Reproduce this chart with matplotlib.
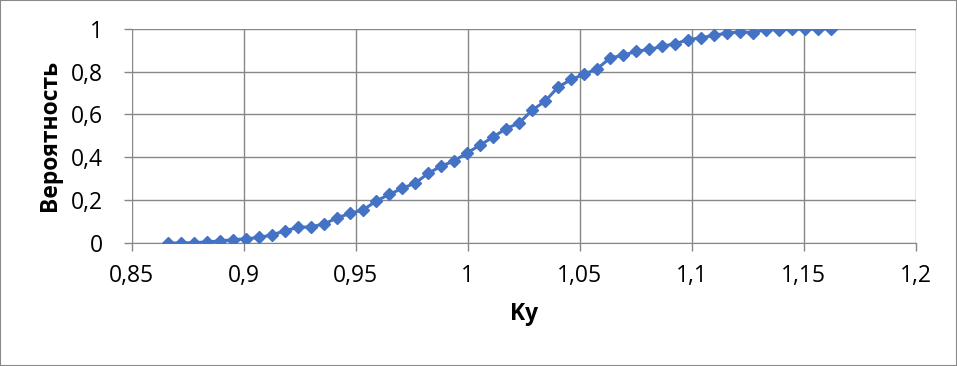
import matplotlib.pyplot as plt
from matplotlib.patches import Rectangle
from matplotlib.ticker import FuncFormatter

plt.rcParams["font.family"] = ["Open Sans", "DejaVu Sans"]

# Ky values along x
ky = [0.8663, 0.8721, 0.8779, 0.8837, 0.8895, 0.8953, 0.9012, 0.9070, 0.9128, 0.9186,
      0.9244, 0.9302, 0.9360, 0.9418, 0.9476, 0.9534, 0.9592, 0.9650, 0.9708, 0.9766,
      0.9824, 0.9882, 0.9940, 0.9998, 1.0056, 1.0114, 1.0172, 1.0230, 1.0288, 1.0346,
      1.0404, 1.0463, 1.0521, 1.0579, 1.0637, 1.0695, 1.0753, 1.0811, 1.0869, 1.0927,
      1.0985, 1.1043, 1.1101, 1.1159, 1.1217, 1.1275, 1.1333, 1.1391, 1.1449, 1.1507,
      1.1565, 1.1623]
# probability
prob = [0.0, 0.0, 0.002, 0.005, 0.010, 0.015, 0.020, 0.026, 0.038, 0.058,
        0.073, 0.076, 0.089, 0.118, 0.138, 0.155, 0.196, 0.227, 0.255, 0.280,
        0.325, 0.359, 0.383, 0.421, 0.457, 0.495, 0.534, 0.560, 0.620, 0.662,
        0.728, 0.763, 0.788, 0.814, 0.864, 0.876, 0.895, 0.903, 0.918, 0.930,
        0.949, 0.958, 0.969, 0.980, 0.985, 0.982, 0.996, 0.996, 0.997, 0.999,
        0.998, 1.0]

x_ticks = [0.85, 0.9, 0.95, 1.0, 1.05, 1.1, 1.15, 1.2]
y_ticks = [0, 0.2, 0.4, 0.6, 0.8, 1.0]

grid_col = "#878787"

fig = plt.figure(figsize=(9.57, 3.66), dpi=100)
ax = fig.add_axes([0.1376, 0.336, 0.8192, 0.5856])

ax.plot(ky, prob, color="#4472C4", linewidth=2.2, marker="D", markersize=6.2,
        zorder=3)

ax.set_xlim(0.85, 1.2)
ax.set_ylim(0, 1)
ax.set_xticks(x_ticks)
ax.set_yticks(y_ticks)

fmt = FuncFormatter(lambda v, p: ("%g" % round(v, 2)).replace(".", ","))
ax.xaxis.set_major_formatter(fmt)
ax.yaxis.set_major_formatter(fmt)

ax.grid(True, color=grid_col, linewidth=1.0)
for s in ax.spines.values():
    s.set_visible(False)
ax.spines["bottom"].set_visible(True)
ax.spines["bottom"].set_color(grid_col)
ax.tick_params(axis="both", length=6, color=grid_col, width=1.0, labelsize=16.5)
ax.tick_params(axis="y", pad=15)
ax.tick_params(axis="x", pad=9)

ax.set_xlabel("Ky", fontsize=16.5, fontweight="bold", labelpad=10)
ax.set_ylabel("Вероятность", fontsize=16.5, fontweight="bold", labelpad=6)

fig.patches.append(Rectangle((0, 0), 1, 1, transform=fig.transFigure, fill=False,
                             edgecolor="#898989", linewidth=1.5))

fig.savefig("out.png", dpi=100)
